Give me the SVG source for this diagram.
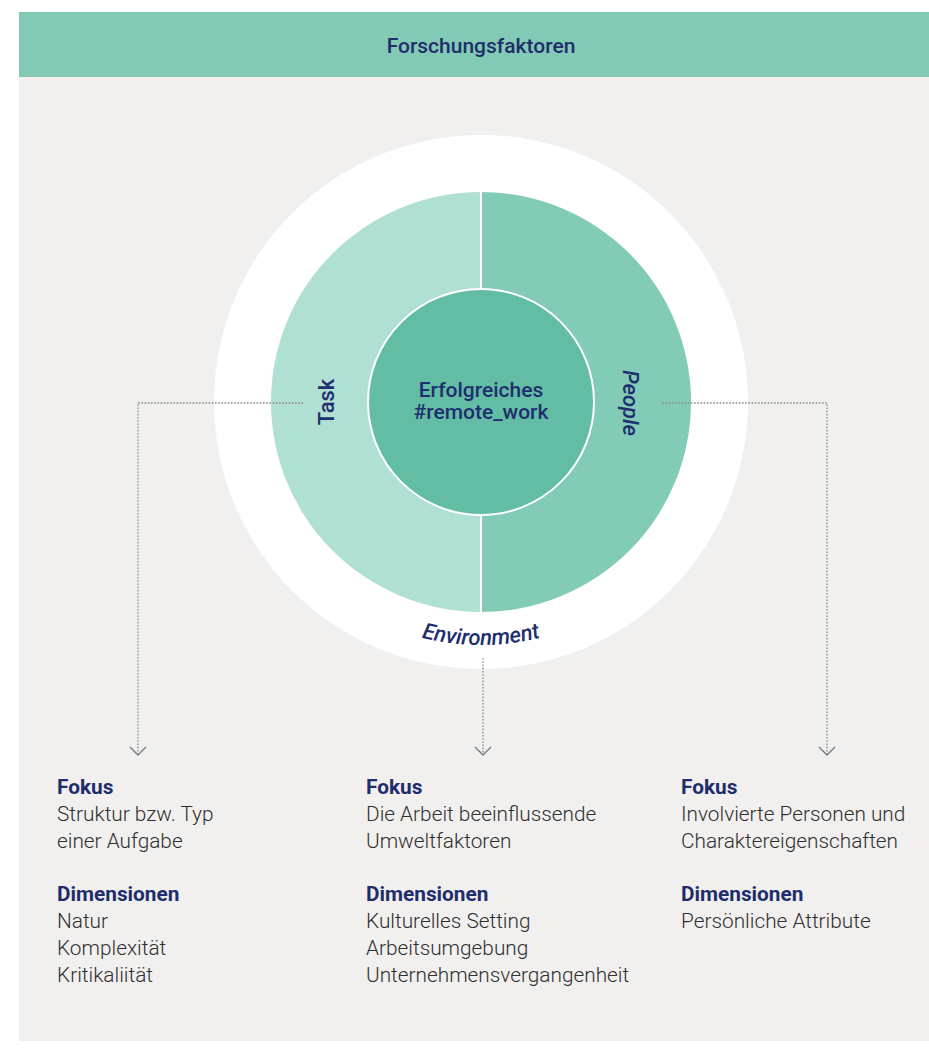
<svg xmlns="http://www.w3.org/2000/svg" width="929" height="1051" viewBox="0 0 929 1051">
  <style>
    .title { font-family: Roboto, "Liberation Sans", sans-serif; font-weight: 500; font-size: 21px; fill: #1f2d6b; }
    .core { font-family: Roboto, "Liberation Sans", sans-serif; font-weight: 500; font-size: 21px; fill: #1e2e6e; }
    .seg { font-family: Roboto, "Liberation Sans", sans-serif; font-weight: 500; font-size: 22px; fill: #1e2e6e; }
    .head { font-family: Roboto, "Liberation Sans", sans-serif; font-weight: 700; font-size: 20.8px; fill: #1f2d6b; }
    .body { font-family: Roboto, "Liberation Sans", sans-serif; font-weight: 300; font-size: 20.8px; fill: #2f2f2f; }
    .conn { fill: none; stroke: #8a8a8a; stroke-width: 1.3; stroke-dasharray: 1.6 1.6; }
    .tip { fill: none; stroke: #7a7a7a; stroke-width: 1.4; }
  </style>
  <defs>
    <path id="envArc" d="M 238 402 A 243 243 0 0 0 724 402"/>
  </defs>

  <!-- page -->
  <rect x="0" y="0" width="929" height="1051" fill="#ffffff"/>
  <rect x="19" y="77" width="910" height="964" fill="#f1f0ee"/>

  <!-- header -->
  <g id="header">
    <rect x="19" y="12" width="910" height="65" fill="#82cab5"/>
    <text class="title" x="481" y="53" text-anchor="middle">Forschungsfaktoren</text>
  </g>

  <!-- factor wheel -->
  <g id="environment">
    <circle cx="481" cy="402" r="267" fill="#ffffff"/>
    <text class="seg" font-style="italic"><textPath href="#envArc" startOffset="50%" text-anchor="middle">Environment</textPath></text>
  </g>
  <g id="task">
    <path d="M 481 192 A 210 210 0 0 0 481 612 Z" fill="#b0dfd3"/>
    <text class="seg" font-size="23" transform="translate(334 402) rotate(-90)" text-anchor="middle">Task</text>
  </g>
  <g id="people">
    <path d="M 481 192 A 210 210 0 0 1 481 612 Z" fill="#82cbb6"/>
    <text class="seg" font-style="italic" transform="translate(623 403) rotate(90)" text-anchor="middle">People</text>
  </g>
  <line x1="481" y1="192" x2="481" y2="612" stroke="#ffffff" stroke-width="2"/>
  <g id="core">
    <circle cx="481" cy="402" r="113" fill="#63bda4" stroke="#ffffff" stroke-width="2"/>
    <text class="core" x="481" y="397" text-anchor="middle">Erfolgreiches</text>
    <text class="core" x="481" y="419" text-anchor="middle">#remote_work</text>
  </g>

  <!-- connectors -->
  <g id="connectors">
    <path class="conn" d="M 303 403 H 138 V 754"/>
    <path class="tip" d="M 130 747 L 138 755 L 146 747"/>
    <path class="conn" d="M 662 403 H 827 V 754"/>
    <path class="tip" d="M 819 747 L 827 755 L 835 747"/>
    <path class="conn" d="M 483 658 V 754"/>
    <path class="tip" d="M 475 747 L 483 755 L 491 747"/>
  </g>

  <!-- description columns -->
  <g id="task-info">
    <text class="head" x="57" y="794">Fokus</text>
    <text class="body" x="57" y="821">Struktur bzw. Typ</text>
    <text class="body" x="57" y="848">einer Aufgabe</text>
    <text class="head" x="57" y="901">Dimensionen</text>
    <text class="body" x="57" y="928">Natur</text>
    <text class="body" x="57" y="955">Komplexität</text>
    <text class="body" x="57" y="982">Kritikaliität</text>
  </g>
  <g id="environment-info">
    <text class="head" x="366" y="794">Fokus</text>
    <text class="body" x="366" y="821">Die Arbeit beeinflussende</text>
    <text class="body" x="366" y="848">Umweltfaktoren</text>
    <text class="head" x="366" y="901">Dimensionen</text>
    <text class="body" x="366" y="928">Kulturelles Setting</text>
    <text class="body" x="366" y="955">Arbeitsumgebung</text>
    <text class="body" x="366" y="982">Unternehmensvergangenheit</text>
  </g>
  <g id="people-info">
    <text class="head" x="681" y="794">Fokus</text>
    <text class="body" x="681" y="821">Involvierte Personen und</text>
    <text class="body" x="681" y="848">Charaktereigenschaften</text>
    <text class="head" x="681" y="901">Dimensionen</text>
    <text class="body" x="681" y="928">Persönliche Attribute</text>
  </g>
</svg>
